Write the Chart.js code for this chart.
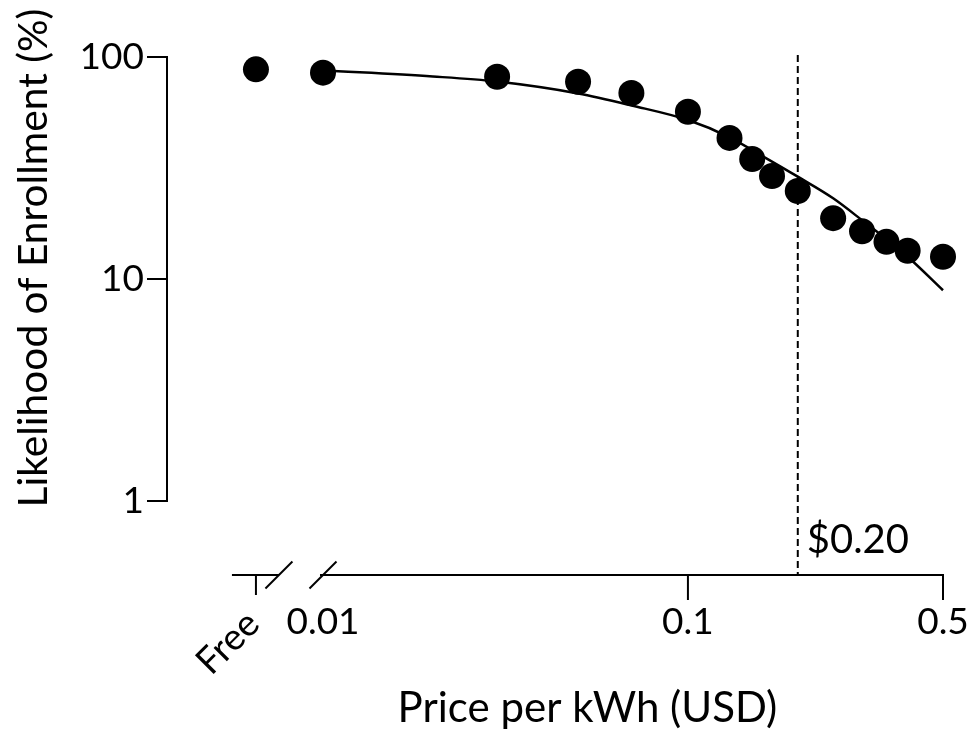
<!DOCTYPE html>
<html>
<head>
<meta charset="utf-8">
<script src="https://cdn.jsdelivr.net/npm/chart.js@4.4.1/dist/chart.umd.min.js"></script>
<style>
  html, body { margin: 0; padding: 0; background: #ffffff; }
  canvas { display: block; }
</style>
</head>
<body>
<canvas id="chart" width="973" height="738"></canvas>
<script>
// ---------------- data ----------------
const prices      = [0.01, 0.03, 0.05, 0.07, 0.1, 0.13, 0.15, 0.17, 0.2, 0.25, 0.3, 0.35, 0.4, 0.5];
const enrollment  = [85.0, 81.5, 77.4, 68.8, 56.7, 43.2, 34.7, 29.1, 24.9, 18.8, 16.4, 14.7, 13.4, 12.6];
const freeLabel      = 'Free';
const freeEnrollment = 88.0;

const fitPrices     = [0.01, 0.02, 0.03, 0.05, 0.07, 0.1, 0.13, 0.16, 0.2, 0.25, 0.3, 0.4, 0.5];
const fitEnrollment = [87.0, 81.7, 77.5, 68.5, 60.5, 52.0, 43.5, 35.8, 28.9, 23.1, 18.4, 12.6, 8.9];

const thresholdPrice = 0.2;
const thresholdLabel = '$0.20';

const xTickValues = [0.01, 0.1, 0.5];
const xTickLabels = ['0.01', '0.1', '0.5'];
const yTickValues = [1, 10, 100];
const yTickLabels = ['1', '10', '100'];

const xTitle = 'Price per kWh (USD)';
const yTitle = 'Likelihood of Enrollment (%)';

// ---------------- layout constants ----------------
const FREE_AXIS_POS = 0.00655;  // where the "Free" (price 0) group sits on the broken log axis
const X_MIN = 0.003737;
const X_MAX = 0.5;
const AXIS_GAP = 74;             // detached x axis drawn below the plot area
const FONT = 'Lato';
const BLACK = '#000000';

const allXTicks = [FREE_AXIS_POS].concat(xTickValues);
const allXLabels = [''].concat(xTickLabels);

function seg(ctx, x1, y1, x2, y2) {
  ctx.beginPath(); ctx.moveTo(x1, y1); ctx.lineTo(x2, y2); ctx.stroke();
}

const customAxes = {
  id: 'customAxes',
  beforeDatasetsDraw(chart) {
    const { ctx, scales: { x, y } } = chart;
    const px = x.getPixelForValue(thresholdPrice);
    ctx.save();
    ctx.strokeStyle = BLACK;
    ctx.lineWidth = 2;
    ctx.setLineDash([7, 4]);
    seg(ctx, px, y.top - 2, px, y.bottom + AXIS_GAP);
    ctx.restore();
  },
  afterDraw(chart) {
    const { ctx, scales: { x, y } } = chart;
    const ay = y.bottom + AXIS_GAP;
    const xf = x.getPixelForValue(FREE_AXIS_POS);
    const x0 = x.getPixelForValue(xTickValues[0]);
    const xEnd = x.getPixelForValue(X_MAX);
    ctx.save();
    ctx.strokeStyle = BLACK;
    ctx.lineWidth = 2;
    ctx.lineCap = 'butt';
    // main axis segment
    seg(ctx, x0 - 3, ay, xEnd + 1, ay);
    // tick marks (0.01 has none in the reference)
    xTickValues.forEach((v, i) => {
      if (i === 0) return;
      const p = x.getPixelForValue(v);
      seg(ctx, p, ay, p, ay + 25);
    });
    // "Free" segment with its tick
    seg(ctx, xf - 24, ay, xf + 23, ay);
    seg(ctx, xf, ay, xf, ay + 20);
    // break marks
    seg(ctx, xf + 23 - 13.5, ay + 13.5, xf + 23 + 13.5, ay - 13.5);
    seg(ctx, x0 - 13.5, ay + 13.5, x0 + 13.5, ay - 13.5);

    ctx.fillStyle = BLACK;
    // "Free" label, rotated
    ctx.save();
    ctx.font = `37px ${FONT}`;
    ctx.translate(xf - 28, ay + 68);
    ctx.rotate(-Math.PI / 4);
    ctx.textAlign = 'center';
    ctx.textBaseline = 'middle';
    ctx.fillText(freeLabel, 0, 0);
    ctx.restore();

    // threshold label
    ctx.font = `40px ${FONT}`;
    ctx.textAlign = 'left';
    ctx.textBaseline = 'alphabetic';
    ctx.fillText(thresholdLabel, x.getPixelForValue(thresholdPrice) + 9, y.bottom + 52);

    // x title, centred on the drawn axis
    ctx.font = `42px ${FONT}`;
    ctx.textAlign = 'center';
    ctx.fillText(xTitle, (xf - 24 + xEnd) / 2, 722);

    // y title
    ctx.save();
    ctx.translate(47, 258);
    ctx.rotate(-Math.PI / 2);
    ctx.font = `40.7px ${FONT}`;
    ctx.textAlign = 'center';
    ctx.textBaseline = 'alphabetic';
    ctx.fillText(yTitle, 0, 0);
    ctx.restore();
    ctx.restore();
  }
};

const ctx = document.getElementById('chart').getContext('2d');
new Chart(ctx, {
  type: 'scatter',
  data: {
    datasets: [
      {
        label: 'Observed',
        data: [{ x: FREE_AXIS_POS, y: freeEnrollment }].concat(prices.map((p, i) => ({ x: p, y: enrollment[i] }))),
        backgroundColor: BLACK,
        borderColor: BLACK,
        borderWidth: 0,
        pointRadius: 13,
        clip: false,
        order: 1
      },
      {
        label: 'Fit',
        type: 'line',
        data: fitPrices.map((p, i) => ({ x: p, y: fitEnrollment[i] })),
        borderColor: BLACK,
        borderWidth: 2.5,
        pointRadius: 0,
        fill: false,
        cubicInterpolationMode: 'monotone',
        clip: false,
        order: 2
      }
    ]
  },
  options: {
    responsive: false,
    animation: false,
    events: [],
    layout: { padding: { top: 57, right: 30, left: 0, bottom: 0 } },
    plugins: { legend: { display: false }, tooltip: { enabled: false }, title: { display: false } },
    scales: {
      x: {
        type: 'logarithmic',
        min: X_MIN,
        max: X_MAX,
        grid: { display: true, drawOnChartArea: false, drawTicks: true, tickLength: 96, color: 'rgba(0,0,0,0)' },
        border: { display: false },
        afterBuildTicks: (s) => { s.ticks = allXTicks.map(v => ({ value: v })); },
        afterFit: (s) => { s.height = 237; },
        ticks: {
          autoSkip: false,
          maxRotation: 0,
          minRotation: 0,
          padding: 3,
          color: BLACK,
          font: { family: FONT, size: 37 },
          callback: (v, i) => allXLabels[i]
        }
      },
      y: {
        type: 'logarithmic',
        min: 1,
        max: 100,
        grid: { drawOnChartArea: false, drawTicks: true, tickLength: 20, lineWidth: 2, color: BLACK },
        border: { display: true, color: BLACK, width: 2 },
        afterBuildTicks: (s) => { s.ticks = yTickValues.map(v => ({ value: v })); },
        afterFit: (s) => { s.width = 167; },
        ticks: {
          padding: 3,
          color: BLACK,
          font: { family: FONT, size: 37 },
          callback: (v, i) => yTickLabels[i]
        }
      }
    }
  },
  plugins: [customAxes]
});
</script>
</body>
</html>
